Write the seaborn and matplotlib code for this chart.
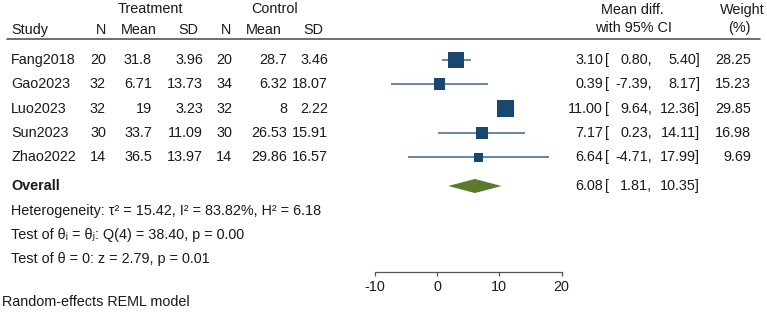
'''
Forest plot of mean differences (random-effects REML meta-analysis).
'''

import matplotlib
matplotlib.use('Agg')
import matplotlib.pyplot as plt
import matplotlib.transforms as mtransforms
from matplotlib.lines import Line2D
import numpy as np
import pandas as pd
import seaborn as sns

# Data ------------------------------------------------------------------------

studies = ['Fang2018', 'Gao2023', 'Luo2023', 'Sun2023', 'Zhao2022']
n_treat = [20, 32, 32, 30, 14]
mean_treat = [31.8, 6.71, 19, 33.7, 36.5]
sd_treat = [3.96, 13.73, 3.23, 11.09, 13.97]
n_ctrl = [20, 34, 32, 30, 14]
mean_ctrl = [28.7, 6.32, 8, 26.53, 29.86]
sd_ctrl = [3.46, 18.07, 2.22, 15.91, 16.57]
mean_diff = [3.10, 0.39, 11.00, 7.17, 6.64]
ci_low = [0.80, -7.39, 9.64, 0.23, -4.71]
ci_high = [5.40, 8.17, 12.36, 14.11, 17.99]
weight = [28.25, 15.23, 29.85, 16.98, 9.69]

overall = [6.08, 1.81, 10.35]   # estimate, lower, upper
x_ticks = [-10, 0, 10, 20]

df = pd.DataFrame({'study': studies, 'md': mean_diff, 'lo': ci_low,
                   'hi': ci_high, 'w': weight})
df['row'] = np.arange(len(df))

# Layout ----------------------------------------------------------------------

W, H = 767, 319
sns.set_style('white')
plt.rcParams['font.family'] = ['Liberation Sans', 'DejaVu Sans']
plt.rcParams['font.size'] = 10.4
plt.rcParams['axes.unicode_minus'] = False

txt_col = '#1a1a1a'
sq_col = '#1a476f'
ln_col = '#3d6591'
dia_col = '#5a7a2e'
ax_col = '#555555'

fig = plt.figure(figsize=(W / 100, H / 100), dpi=100)

# forest axes: x pixel = 437 + 6.23 * value, rows at 60 + 24.3 * row
px0, pscale = 437, 6.23
ax_l, ax_r, ax_top, ax_bot = 340, 600, 40, 272
row0, rstep = 60, 24.3
ax = fig.add_axes([ax_l / W, 1 - ax_bot / H, (ax_r - ax_l) / W,
                   (ax_bot - ax_top) / H])
ax.set_xlim((ax_l - px0) / pscale, (ax_r - px0) / pscale)
ax.set_ylim((ax_bot - row0) / rstep, (ax_top - row0) / rstep)
overall_row = (186 - row0) / rstep

# CI lines, then squares sized by weight
ax.hlines(df['row'], df['lo'], df['hi'], color=ln_col, lw=1.1, zorder=1)
sns.scatterplot(data=df, x='md', y='row', size='w', marker='s',
                sizes=(4.6 * df['w'].min(), 4.6 * df['w'].max()),
                size_norm=(df['w'].min(), df['w'].max()),
                color=sq_col, linewidth=0, legend=False, ax=ax, zorder=2)

# overall diamond
est, lo, hi = overall
ax.fill([lo, est, hi, est], [overall_row, overall_row - 0.29,
                             overall_row, overall_row + 0.29],
        color=dia_col, lw=0, zorder=2)

ax.set_xlabel('')
ax.set_ylabel('')
ax.set_yticks([])
ax.set_xticks(x_ticks)
for s in ['left', 'top', 'right']:
    ax.spines[s].set_visible(False)
ax.spines['bottom'].set_bounds(x_ticks[0], x_ticks[-1])
ax.spines['bottom'].set_color(ax_col)
ax.spines['bottom'].set_linewidth(0.9)
ax.tick_params(axis='x', direction='out', length=3, width=0.9,
               color=ax_col, labelsize=10.4, labelcolor=txt_col, pad=3,
               bottom=True)
ax.patch.set_alpha(0)

# Text ------------------------------------------------------------------------

trans_row = mtransforms.blended_transform_factory(fig.transFigure, ax.transData)


def row_text(xpx, row, s, ha='right', **kw):
    fig.text(xpx / W, row, s, ha=ha, va='center', color=txt_col,
             transform=trans_row, **kw)


def fig_text(xpx, ypx, s, ha='left', **kw):
    fig.text(xpx / W, 1 - ypx / H, s, ha=ha, va='center', color=txt_col,
             **kw)


# header
fig_text(150, 9, 'Treatment', ha='center')
fig_text(275, 9, 'Control', ha='center')
fig_text(11, 30, 'Study')
for xpx, lab in zip([106, 157, 198, 231, 282, 323],
                    ['N', 'Mean', 'SD', 'N', 'Mean', 'SD']):
    fig_text(xpx, 30, lab, ha='right')
fig_text(632, 10, 'Mean diff.', ha='center')
fig_text(633, 28, 'with 95% CI', ha='center')
fig_text(742, 10, 'Weight', ha='center')
fig_text(739, 28, '(%)', ha='center')
fig.add_artist(Line2D([7 / W, 760 / W], [1 - 39 / H, 1 - 39 / H],
                      color=ax_col, lw=1.2, transform=fig.transFigure))

# study rows
for i in range(len(studies)):
    row_text(11, i, studies[i], ha='left')
    row_text(106, i, f'{n_treat[i]}')
    row_text(152, i, f'{mean_treat[i]:g}')
    row_text(203, i, f'{sd_treat[i]:.2f}')
    row_text(232, i, f'{n_ctrl[i]}')
    row_text(287, i, f'{mean_ctrl[i]:g}')
    row_text(328, i, f'{sd_ctrl[i]:.2f}')
    row_text(603, i, f'{mean_diff[i]:.2f}')
    row_text(605, i, '[', ha='left')
    row_text(652, i, f'{ci_low[i]:.2f},')
    row_text(700, i, f'{ci_high[i]:.2f}]')
    row_text(751, i, f'{weight[i]:.2f}')

# overall row
row_text(11, overall_row, 'Overall', ha='left', fontweight='bold')
row_text(603, overall_row, f'{est:.2f}')
row_text(605, overall_row, '[', ha='left')
row_text(652, overall_row, f'{lo:.2f},')
row_text(700, overall_row, f'{hi:.2f}]')

# footer
fig_text(11, 211, 'Heterogeneity: τ² = 15.42, I² = 83.82%, H² = 6.18')
fig_text(11, 235, 'Test of θᵢ = θⱼ: Q(4) = 38.40, p = 0.00')
fig_text(11, 259, 'Test of θ = 0: z = 2.79, p = 0.01')
fig_text(2, 302, 'Random-effects REML model')

fig.savefig('out.png', dpi=100)
